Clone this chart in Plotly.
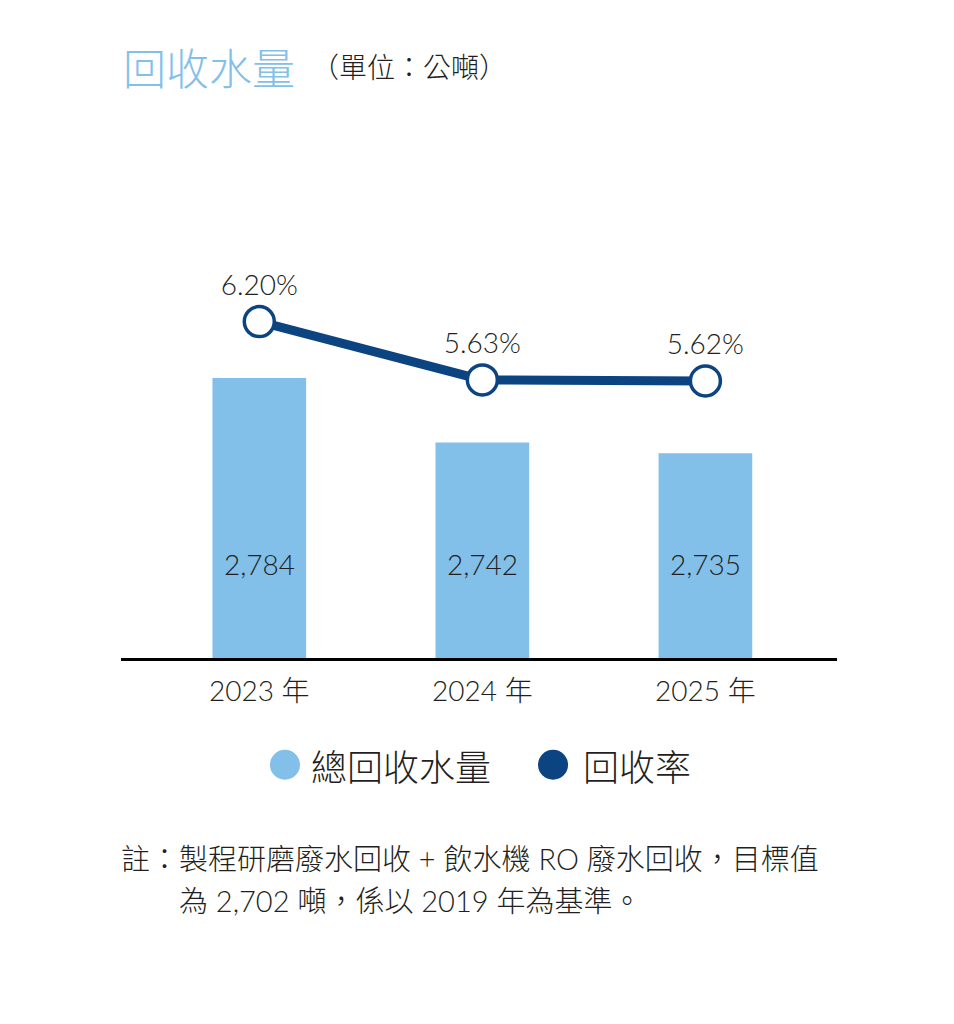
import plotly.graph_objects as go

###############################################################################
years = ["2023 年", "2024 年", "2025 年"]
water = [2784, 2742, 2735]          # 總回收水量 (公噸)
rate = [6.20, 5.63, 5.62]           # 回收率 (%)
###############################################################################
light_blue = "#82c0ea"
navy = "#0b4480"
dark = "#231f20"
font = "Lato, Noto Sans CJK TC, sans-serif"
cjk = "Noto Sans CJK TC, sans-serif"

bars = go.Bar(
    x=years, y=water, width=0.42,
    marker=dict(color=light_blue, line=dict(width=0)),
    name="總回收水量", showlegend=False, hoverinfo="skip",
)
line = go.Scatter(
    x=years, y=rate, yaxis="y2",
    mode="lines+markers+text",
    line=dict(color=navy, width=9),
    marker=dict(size=30, color="white", line=dict(color=navy, width=3.5)),
    text=[f"{r:.2f}%" for r in rate],
    textposition="top center",
    textfont=dict(family=font, size=28, color=dark, weight=300),
    name="回收率", showlegend=False, cliponaxis=False,
)

fig = go.Figure(data=[bars, line])

# values written inside the bars
for yr, v in zip(years, water):
    fig.add_annotation(x=yr, y=2663, text=f"{v:,}", showarrow=False,
                       yanchor="middle",
                       font=dict(family=font, size=28, color=dark, weight=300))

# baseline
fig.add_shape(type="line", xref="paper", yref="y", x0=0, x1=1, y0=2600, y1=2600,
              line=dict(color="black", width=6))

# title
fig.add_annotation(xref="paper", yref="paper", x=0.0, y=1.0572,
                   xanchor="left", yanchor="middle",
                   text="回收水量", showarrow=False,
                   font=dict(family=cjk, size=43, color=light_blue, weight=300))
fig.add_annotation(xref="paper", yref="paper", x=0.262, y=1.0572,
                   xanchor="left", yanchor="middle",
                   text="（單位：公噸）", showarrow=False,
                   font=dict(family=cjk, size=28, color=dark, weight=300))

# legend
for cx, col, tx, lab in [(0.229, light_blue, 0.262, "總回收水量"),
                         (0.6034, navy, 0.642, "回收率")]:
    fig.add_shape(type="circle", xref="paper", yref="paper",
                  xsizemode="pixel", ysizemode="pixel",
                  xanchor=cx, yanchor=-0.1843, x0=-15, x1=15, y0=-15, y1=15,
                  fillcolor=col, line=dict(width=0))
    fig.add_annotation(xref="paper", yref="paper", x=tx, y=-0.1843,
                       xanchor="left", yanchor="middle",
                       text=lab, showarrow=False,
                       font=dict(family=cjk, size=36, color=dark, weight=300))

# footnote
fig.add_annotation(xref="paper", yref="paper", x=-0.003, y=-0.3506,
                   xanchor="left", yanchor="middle",
                   text="註：製程研磨廢水回收 + 飲水機 RO 廢水回收，目標值",
                   showarrow=False,
                   font=dict(family=font, size=29, color=dark, weight=300))
fig.add_annotation(xref="paper", yref="paper", x=0.078, y=-0.4258,
                   xanchor="left", yanchor="middle",
                   text="為 2,702 噸，係以 2019 年為基準。",
                   showarrow=False,
                   font=dict(family=font, size=29, color=dark, weight=300))

fig.update_layout(
    width=954, height=1024,
    margin=dict(l=113, r=125, t=90, b=371),
    paper_bgcolor="white", plot_bgcolor="white",
    xaxis=dict(range=[-0.62, 2.59], showgrid=False, zeroline=False, showline=False,
               ticks="", ticklabelstandoff=11,
               tickfont=dict(family=font, size=28, color=dark, weight=300)),
    yaxis=dict(range=[2600, 2966], visible=False),
    yaxis2=dict(range=[2.886, 8.383], overlaying="y", visible=False),
)

fig.write_html("out.html")
